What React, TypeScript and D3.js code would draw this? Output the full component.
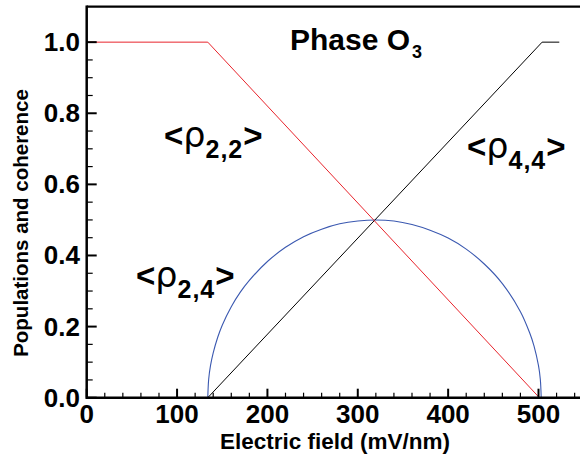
import React from "react";
import * as d3 from "d3";

const W = 580;
const H = 463;

// Series data (electric field in mV/nm, value)
const rho22X = [0, 134, 501];
const rho22Y = [1, 1, 0];

const rho44X = [134, 504, 523];
const rho44Y = [0, 1, 1];

const rho24X = [134, 135, 137, 140, 145, 150, 160, 170, 180, 200, 220, 240, 260, 280, 300, 320, 340, 360, 380, 400, 420, 440, 460, 480, 490, 495, 500, 502, 503];
const rho24Y = [0, 0.052, 0.09, 0.126, 0.17, 0.204, 0.256, 0.297, 0.33, 0.383, 0.423, 0.453, 0.474, 0.489, 0.497, 0.5, 0.497, 0.487, 0.471, 0.449, 0.418, 0.376, 0.321, 0.242, 0.184, 0.146, 0.09, 0.052, 0];

const xMajorTicks = [0, 100, 200, 300, 400, 500];
const yMajorTicks = [0, 0.2, 0.4, 0.6, 0.8, 1.0];
const yTickLabels = ["0.0", "0.2", "0.4", "0.6", "0.8", "1.0"];

const FONT = "'Liberation Sans', Arial, Helvetica, sans-serif";

export default function App() {
  const x = d3.scaleLinear().domain([0, 560]).range([86.7, 86.7 + 560 * 0.9036]);
  const y = d3.scaleLinear().domain([0, 1.1]).range([397.7, 6.6]);

  const xMinor = d3.range(0, 561, 20).filter((v) => v % 100 !== 0);
  const yMinor = d3.range(0, 21).map((i) => i * 0.05).filter((v, i) => i % 4 !== 0 && v <= 1.06);

  const line = d3
    .line<[number, number]>()
    .x((d) => x(d[0]))
    .y((d) => y(d[1]));
  const smooth = d3
    .line<[number, number]>()
    .x((d) => x(d[0]))
    .y((d) => y(d[1]))
    .curve(d3.curveCatmullRom.alpha(0.5));

  const red = rho22X.map((v, i) => [v, rho22Y[i]] as [number, number]);
  const black = rho44X.map((v, i) => [v, rho44Y[i]] as [number, number]);
  const blue = rho24X.map((v, i) => [v, rho24Y[i]] as [number, number]);

  const x0 = x(0);
  const yb = y(0);
  const yt = y(1.1);

  const rhoLabel = (lx: number, ly: number, sub: string) => (
    <text x={lx} y={ly} fontFamily={FONT} fill="#000">
      <tspan fontSize={33} fontWeight="bold">&lt;</tspan>
      <tspan fontSize={35} fontWeight="normal" fontFamily="'DejaVu Sans', sans-serif">ρ</tspan>
      <tspan fontSize={25} fontWeight="bold" dy={11} letterSpacing={1}>{sub}</tspan>
      <tspan fontSize={33} fontWeight="bold" dy={-11}>&gt;</tspan>
    </text>
  );

  return (
    <svg width={W} height={H} style={{ position: "absolute", left: 0, top: 0, background: "#fff" }}>
      <rect x={0} y={0} width={W} height={H} fill="#fff" />
      {/* data lines */}
      <path d={smooth(blue) || ""} fill="none" stroke="#3a58b0" strokeWidth={1.1} />
      <path d={line(black) || ""} fill="none" stroke="#000" strokeWidth={1} />
      <path d={line(red) || ""} fill="none" stroke="#e8242c" strokeWidth={1} />

      {/* ticks */}
      {xMajorTicks.map((v) => (
        <line key={"xM" + v} x1={x(v)} x2={x(v)} y1={yb} y2={yb - 9} stroke="#000" strokeWidth={2} />
      ))}
      {xMinor.map((v) => (
        <line key={"xm" + v} x1={x(v)} x2={x(v)} y1={yb} y2={yb - 5} stroke="#000" strokeWidth={1.2} />
      ))}
      {yMajorTicks.map((v) => (
        <line key={"yM" + v} x1={x0} x2={x0 + 10} y1={y(v)} y2={y(v)} stroke="#000" strokeWidth={2} />
      ))}
      {yMinor.map((v) => (
        <line key={"ym" + v} x1={x0} x2={x0 + 6} y1={y(v)} y2={y(v)} stroke="#000" strokeWidth={1.2} />
      ))}

      {/* frame */}
      <line x1={x0} x2={W + 10} y1={yb} y2={yb} stroke="#000" strokeWidth={2.5} />
      <line x1={x0} x2={W + 10} y1={yt} y2={yt} stroke="#000" strokeWidth={2.2} />
      <line x1={x0} x2={x0} y1={yb + 1.2} y2={yt - 1.1} stroke="#000" strokeWidth={2.5} />

      {/* tick labels */}
      {xMajorTicks.map((v) => (
        <text key={"xl" + v} x={x(v)} y={423} textAnchor="middle" fontFamily={FONT} fontWeight="bold" fontSize={26}>
          {String(v)}
        </text>
      ))}
      {yMajorTicks.map((v, i) => (
        <text key={"yl" + v} x={80} y={y(v) + 9} textAnchor="end" fontFamily={FONT} fontWeight="bold" fontSize={26}>
          {yTickLabels[i]}
        </text>
      ))}

      {/* axis titles */}
      <text x={335} y={449} textAnchor="middle" fontFamily={FONT} fontWeight="bold" fontSize={22.5}>
        Electric field (mV/nm)
      </text>
      <text
        transform={`translate(28,223) rotate(-90)`}
        textAnchor="middle"
        fontFamily={FONT}
        fontWeight="bold"
        fontSize={20.5}
      >
        Populations and coherence
      </text>

      {/* annotations */}
      <text x={290} y={50} fontFamily={FONT} fontWeight="bold" fontSize={30}>
        Phase O<tspan fontSize={18} dy={8} dx={2}>3</tspan>
      </text>
      {rhoLabel(164, 147, "2,2")}
      {rhoLabel(467, 158, "4,4")}
      {rhoLabel(136, 287, "2,4")}
    </svg>
  );
}
